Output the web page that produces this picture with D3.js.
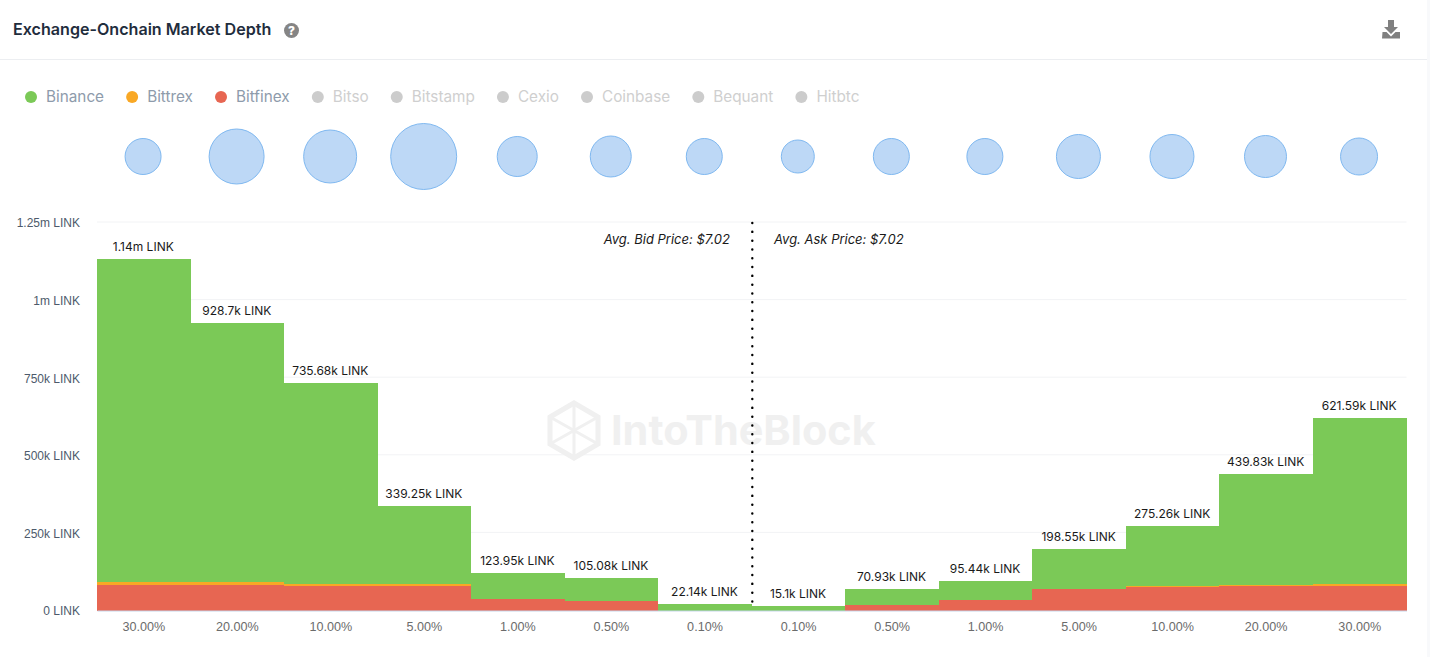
<!DOCTYPE html>
<html>
<head>
<meta charset="utf-8">
<script src="https://cdn.jsdelivr.net/npm/d3@7"></script>
<style>
  html, body { margin: 0; padding: 0; background: #fff; }
  svg { display: block; font-family: Inter, "Noto Sans", sans-serif; }
</style>
</head>
<body>
<svg width="1430" height="657"></svg>
<script>
'use strict';
// values
var exchanges = ['Binance', 'Bittrex', 'Bitfinex', 'Bitso', 'Bitstamp', 'Cexio', 'Coinbase', 'Bequant', 'Hitbtc'];
var exchangeColors = ['#7bc957', '#f9a825', '#e76652', '#cccccc', '#cccccc', '#cccccc', '#cccccc', '#cccccc', '#cccccc'];
var levels = ['30.00%', '20.00%', '10.00%', '5.00%', '1.00%', '0.50%', '0.10%', '0.10%', '0.50%', '1.00%', '5.00%', '10.00%', '20.00%', '30.00%'];
var binance = [1043000, 836700, 647180, 253750, 83950, 72080, 22140, 15100, 52930, 61440, 126550, 195760, 355330, 536090];
var bittrex = [8000, 8000, 6500, 6500, 0, 0, 0, 0, 0, 0, 0, 3500, 4500, 3500];
var bitfinex = [84000, 84000, 82000, 79000, 40000, 33000, 0, 0, 18000, 34000, 72000, 76000, 80000, 82000];
var bubbleSizes = [324, 756, 702, 1089, 400, 420, 324, 272, 324, 324, 484, 484, 441, 342]; // relative area
var yTicks = [0, 250000, 500000, 750000, 1000000, 1250000];
var yTickLabels = ['0 LINK', '250k LINK', '500k LINK', '750k LINK', '1m LINK', '1.25m LINK'];
var avgBid = 'Avg. Bid Price: $7.02';
var avgAsk = 'Avg. Ask Price: $7.02';

var svg = d3.select('svg');

// header
svg.append('rect').attr('x', 1427).attr('width', 3).attr('height', 657).attr('fill', '#f8f9fb');
svg.append('text').attr('x', 13).attr('y', 35)
  .attr('font-size', 16.1).attr('font-weight', 600).attr('fill', '#1f2d3d')
  .text('Exchange-Onchain Market Depth');
svg.append('circle').attr('cx', 291.5).attr('cy', 30.5).attr('r', 7.5).attr('fill', '#858585');
svg.append('text').attr('x', 291.5).attr('y', 35).attr('text-anchor', 'middle')
  .attr('font-size', 12).attr('font-weight', 800).attr('fill', '#fff').text('?');
svg.append('path')
  .attr('d', 'M1388 20h6v7h4l-7 7-7-7h4zM1382.500 32h4l4.500 4.500 4.500-4.500h4.500v6.500h-18z')
  .attr('fill', '#808080');
svg.append('line').attr('x1', 0).attr('x2', 1427).attr('y1', 59.5).attr('y2', 59.5).attr('stroke', '#eceef1');

// legend, flows along the text widths
var legendX = 25;
exchanges.forEach(function(name, i) {
  svg.append('circle').attr('cx', legendX + 6).attr('cy', 97).attr('r', 6).attr('fill', exchangeColors[i]);
  var t = svg.append('text').attr('x', legendX + 21).attr('y', 102)
    .attr('font-size', 15.3)
    .attr('fill', i < 3 ? '#8e9bab' : '#cfcfcf')
    .text(name);
  legendX += 21 + t.node().getComputedTextLength() + 22.1;
});

// scales
var x = d3.scaleBand().domain(d3.range(levels.length)).range([97, 1406.5]);
var y = d3.scaleLinear().domain([0, 1250000]).range([611, 223]);
var r = d3.scaleSqrt().domain([0, d3.max(bubbleSizes)]).range([0, 33]);

// gridlines
svg.append('g').selectAll('line').data(yTicks.slice(1)).join('line')
  .attr('x1', 97).attr('x2', 1406.5)
  .attr('y1', function(d) { return y(d) - 1; }).attr('y2', function(d) { return y(d) - 1; })
  .attr('stroke', '#f2f3f5');

// watermark
var mark = svg.append('g').attr('fill', 'none').attr('stroke', '#f0f0f0').attr('stroke-width', 5);
mark.append('path').attr('d', 'M574 403l24 14v27l-24 14-24-14v-27z');
mark.append('path').attr('d', 'M550 417l48 27M598 417l-48 27M574 403v55').attr('stroke-width', 3);
svg.append('text').attr('x', 611).attr('y', 445)
  .attr('font-size', 41.4).attr('font-weight', 700).attr('fill', '#f0f0f0').text('IntoTheBlock');

// bubbles
svg.append('g').selectAll('circle').data(bubbleSizes).join('circle')
  .attr('cx', function(d, i) { return x(i) + x.bandwidth() / 2 - 0.7; })
  .attr('cy', 156.5)
  .attr('r', function(d) { return r(d); })
  .attr('fill', '#bdd8f6').attr('stroke', '#7fb8f0').attr('stroke-width', 1);

// stacked bars
var rows = levels.map(function(d, i) {
  return { i: i, Binance: binance[i], Bittrex: bittrex[i], Bitfinex: bitfinex[i] };
});
var stacked = d3.stack().keys(['Bitfinex', 'Bittrex', 'Binance'])(rows);
svg.append('g').attr('shape-rendering', 'crispEdges').selectAll('g').data(stacked).join('g')
  .attr('fill', function(s) { return exchangeColors[exchanges.indexOf(s.key)]; })
  .selectAll('rect').data(function(s) { return s; }).join('rect')
  .attr('x', function(d) { return x(d.data.i); })
  .attr('width', x.bandwidth())
  .attr('y', function(d) { return y(d[1]); })
  .attr('height', function(d) { return y(d[0]) - y(d[1]); });

// totals above the bars
var fmtTotal = function(v) {
  return v >= 1000000 ? +(v / 1000000).toFixed(2) + 'm LINK' : +(v / 1000).toFixed(2) + 'k LINK';
};
svg.append('g').selectAll('text').data(rows).join('text')
  .attr('x', function(d) { return x(d.i) + x.bandwidth() / 2 - 0.5; })
  .attr('y', function(d) { return y(d.Binance + d.Bittrex + d.Bitfinex) - 8; })
  .attr('text-anchor', 'middle').attr('font-size', 12).attr('fill', '#1a1a1a')
  .text(function(d) { return fmtTotal(d.Binance + d.Bittrex + d.Bitfinex); });

// axes
var yAxis = d3.axisLeft(y).tickValues(yTicks).tickSize(0).tickPadding(0)
  .tickFormat(function(d, i) { return yTickLabels[i]; });
var gy = svg.append('g').attr('transform', 'translate(80,0)').call(yAxis);
gy.select('.domain').remove();
gy.selectAll('text').attr('font-family', 'inherit').attr('font-size', 12).attr('fill', '#4d5a6b');

var xAxis = d3.axisBottom(x).tickSize(0).tickPadding(0)
  .tickFormat(function(d, i) { return levels[i]; });
var gx = svg.append('g').attr('transform', 'translate(0,610.5)').call(xAxis);
gx.select('.domain').attr('stroke', '#c5d5ea');
gx.selectAll('text').attr('font-family', 'inherit').attr('font-size', 12.6).attr('fill', '#6b6b6b').attr('y', 12).attr('dy', '0.71em');

// mid line with average prices
svg.append('line').attr('x1', 752.3).attr('x2', 752.3).attr('y1', 223).attr('y2', 610)
  .attr('stroke', '#000').attr('stroke-width', 2.4).attr('stroke-linecap', 'round').attr('stroke-dasharray', '0.1 8.7');
svg.append('text').attr('x', 730).attr('y', 244).attr('text-anchor', 'end')
  .attr('font-size', 13).attr('font-style', 'italic').attr('fill', '#1a1a1a').text(avgBid);
svg.append('text').attr('x', 774).attr('y', 244)
  .attr('font-size', 13).attr('font-style', 'italic').attr('fill', '#1a1a1a').text(avgAsk);
</script>
</body>
</html>
